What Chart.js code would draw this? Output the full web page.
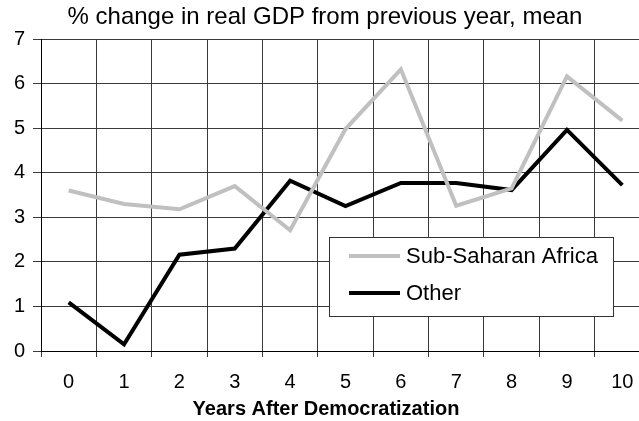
<!DOCTYPE html>
<html>
<head>
<meta charset="utf-8">
<title>% change in real GDP from previous year, mean</title>
<script src="https://cdn.jsdelivr.net/npm/chart.js@4.4.1/dist/chart.umd.min.js"></script>
<style>
  html, body { margin: 0; padding: 0; background: #fff; overflow: hidden; }
  #wrap { position: relative; width: 674px; height: 421px; }
</style>
</head>
<body>
<div id="wrap"><canvas id="gdpChart"></canvas></div>
<script>
// Years after democratization (x axis categories)
const years = ['0', '1', '2', '3', '4', '5', '6', '7', '8', '9', '10'];

// Mean % change in real GDP from previous year
const subSaharanAfrica = [3.60, 3.30, 3.18, 3.70, 2.71, 4.98, 6.32, 3.26, 3.65, 6.16, 5.17];
const other = [1.09, 0.15, 2.16, 2.30, 3.82, 3.25, 3.77, 3.77, 3.61, 4.96, 3.72];

const yMin = 0;
const yMax = 7;
const yStep = 1;

const xTitle = 'Years After Democratization';

const FONT = "'Liberation Sans', Arial, sans-serif";

// boxed legend drawn inside the plot, lower right
const boxLegend = {
    id: 'boxLegend',
    afterDatasetsDraw(chart) {
        const ctx = chart.ctx;
        const x = 329, y = 237, w = 284, h = 79;
        ctx.save();
        ctx.fillStyle = '#ffffff';
        ctx.fillRect(x, y, w, h);
        ctx.strokeStyle = '#333333';
        ctx.lineWidth = 1;
        ctx.strokeRect(x + 0.5, y + 0.5, w, h);
        ctx.font = '22px ' + FONT;
        ctx.textBaseline = 'middle';
        chart.data.datasets.forEach((ds, i) => {
            const ly = y + 19 + i * 37;
            ctx.strokeStyle = ds.borderColor;
            ctx.lineWidth = ds.borderWidth;
            ctx.beginPath();
            ctx.moveTo(x + 20, ly);
            ctx.lineTo(x + 71, ly);
            ctx.stroke();
            ctx.fillStyle = '#000';
            ctx.fillText(ds.label, x + 77, ly + 1);
        });
        ctx.restore();
    }
};

// axis caption under the x ticks, centred on the whole figure
const xCaption = {
    id: 'xCaption',
    afterDraw(chart) {
        const ctx = chart.ctx;
        ctx.save();
        ctx.font = 'bold 20px ' + FONT;
        ctx.fillStyle = '#000';
        ctx.textAlign = 'center';
        ctx.textBaseline = 'middle';
        ctx.fillText(xTitle, 326, 409);
        ctx.restore();
    }
};

document.addEventListener('DOMContentLoaded', function () {
    const ctx = document.getElementById('gdpChart').getContext('2d');
    new Chart(ctx, {
        type: 'line',
        data: {
            labels: years,
            datasets: [
                {
                    label: 'Sub-Saharan Africa',
                    data: subSaharanAfrica,
                    borderColor: '#c0c0c0',
                    borderWidth: 4,
                    pointRadius: 0,
                    tension: 0,
                    fill: false
                },
                {
                    label: 'Other',
                    data: other,
                    borderColor: '#000000',
                    borderWidth: 4,
                    pointRadius: 0,
                    tension: 0,
                    fill: false
                }
            ]
        },
        options: {
            responsive: true,
            maintainAspectRatio: false,
            animation: false,
            layout: { padding: { left: 0, right: 24, top: 0, bottom: 0 } },
            plugins: {
                legend: { display: false },
                tooltip: { enabled: false },
                title: {
                    display: true,
                    text: '% change in real GDP from previous year, mean',
                    color: '#000',
                    font: { family: FONT, size: 24, weight: 'normal', lineHeight: 1.2 },
                    padding: { top: 3, bottom: 7.2 }
                }
            },
            scales: {
                x: {
                    type: 'category',
                    offset: true,
                    grid: {
                        offset: true,
                        color: '#3a3a3a',
                        lineWidth: 1,
                        tickLength: 6,
                        drawOnChartArea: true
                    },
                    border: { color: '#000', width: 1 },
                    ticks: {
                        color: '#000',
                        padding: 13,
                        maxRotation: 0,
                        font: { family: FONT, size: 20 }
                    },
                    title: { display: false },
                    afterFit: function (scale) { scale.height = 70; }
                },
                y: {
                    min: yMin,
                    max: yMax,
                    grid: { color: '#3a3a3a', lineWidth: 1, tickLength: 8 },
                    border: { color: '#000', width: 1 },
                    ticks: {
                        stepSize: yStep,
                        color: '#000',
                        padding: 8,
                        font: { family: FONT, size: 20 }
                    },
                    afterFit: function (scale) { scale.width = 41; }
                }
            }
        },
        plugins: [boxLegend, xCaption]
    });
});
</script>
</body>
</html>
